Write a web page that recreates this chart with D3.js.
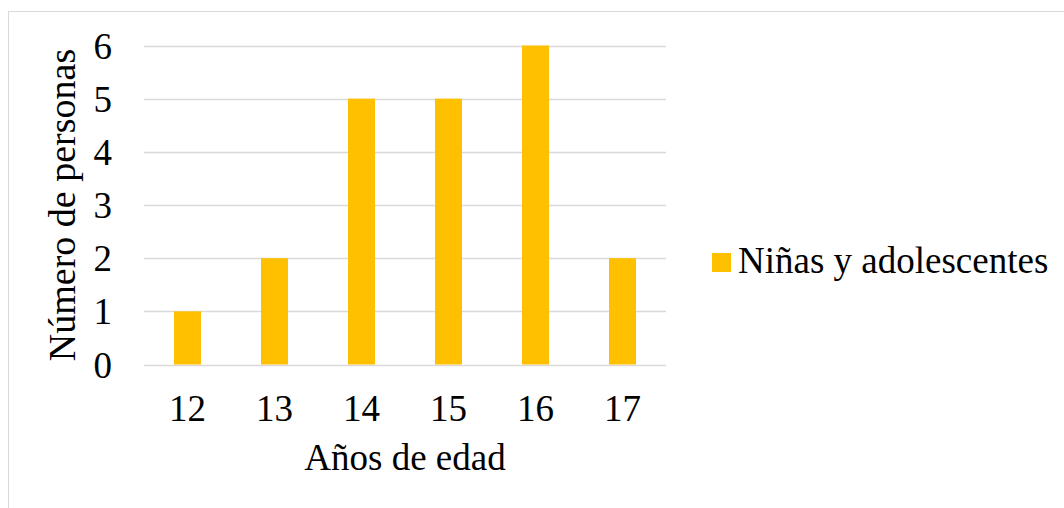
<!DOCTYPE html>
<html><head><meta charset="utf-8">
<script src="https://cdn.jsdelivr.net/npm/d3@7"></script>
<style>body{margin:0;background:#fff}svg{display:block}</style>
</head><body><svg id="c" width="1064" height="508" style="font-family:'Liberation Serif','Times New Roman',serif"></svg>
<script>
const categories = ["12","13","14","15","16","17"];
const values = [1,2,5,5,6,2];
const yTicks = [0,1,2,3,4,5,6];
const seriesName = "Niñas y adolescentes";
const xTitle = "Años de edad";
const yTitle = "Número de personas";

const FONT = "'Liberation Serif', 'Times New Roman', serif";
const FS = 37;
const svg = d3.select("#c");
svg.append("rect").attr("x",8.5).attr("y",11.5).attr("width",1070).attr("height",520)
  .attr("fill","#fff").attr("stroke","#d9d9d9").attr("stroke-width",1);

const x = d3.scaleBand().domain(categories).range([144,666]).paddingInner(0.69).paddingOuter(0.345);
const y = d3.scaleLinear().domain([0,6]).range([364.5,45.5]);

const g = svg.append("g");
g.selectAll("line.grid").data(yTicks).join("line").attr("class","grid")
  .attr("x1",144).attr("x2",666).attr("y1",d=>Math.round(y(d))+0.5).attr("y2",d=>Math.round(y(d))+0.5)
  .attr("stroke","#d9d9d9").attr("stroke-width",1.3);

g.selectAll("rect.bar").data(values).join("rect").attr("class","bar")
  .attr("x",(d,i)=>x(categories[i])).attr("width",x.bandwidth())
  .attr("y",d=>y(d)).attr("height",d=>y(0)-y(d)).attr("fill","#ffc000");

const yAxis = d3.axisLeft(y).tickValues(yTicks).tickFormat(d3.format("d")).tickSize(0).tickPadding(0);
const ya = svg.append("g").attr("transform","translate(112,0)").call(yAxis)
  .attr("font-size",FS).attr("font-family",FONT);
ya.select(".domain").remove();
ya.selectAll("text").attr("fill","#000").attr("dy","0.34em");

const xAxis = d3.axisBottom(x).tickSize(0).tickPadding(0);
const xa = svg.append("g").attr("transform","translate(0,421)").call(xAxis)
  .attr("font-size",FS).attr("font-family",FONT);
xa.select(".domain").remove();
xa.selectAll("text").attr("fill","#000").attr("dy","0");

svg.append("text").attr("x",405).attr("y",470).attr("text-anchor","middle")
  .attr("font-family",FONT).attr("font-size",FS).attr("fill","#000").text(xTitle);
svg.append("text").attr("transform","translate(75,205) rotate(-90)").attr("text-anchor","middle")
  .attr("font-family",FONT).attr("font-size",38).attr("fill","#000").text(yTitle);

svg.append("rect").attr("x",712).attr("y",253).attr("width",19).attr("height",19).attr("fill","#ffc000");
svg.append("text").attr("x",738).attr("y",273)
  .attr("font-family",FONT).attr("font-size",FS).attr("fill","#000").text(seriesName);
</script></body></html>
